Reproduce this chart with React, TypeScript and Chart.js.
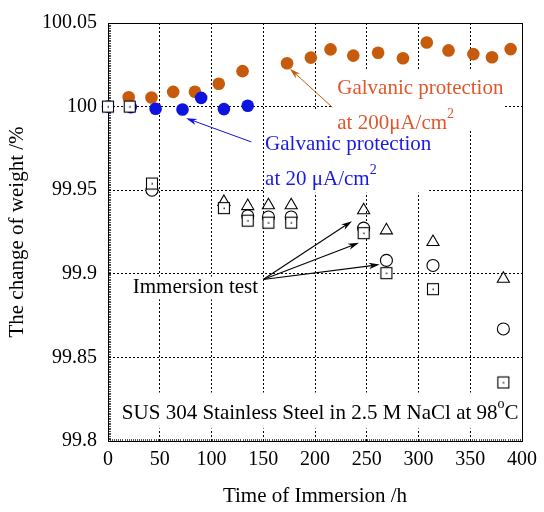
import React, { useEffect, useRef } from "react";
import { Chart, registerables } from "chart.js";

Chart.register(...registerables);

// ---------- data ----------
const orangeX = [20, 42, 63, 84, 107, 130, 173, 196, 215, 237, 261, 285, 308, 329, 353, 371, 389];
const orangeY = [100.0056, 100.0054, 100.0088, 100.0089, 100.0137, 100.0212, 100.0259, 100.0293, 100.0342, 100.0305, 100.0322, 100.0289, 100.0383, 100.0336, 100.0314, 100.0295, 100.0344];

const blueX = [0, 22, 46, 72, 90, 112, 135];
const blueY = [100.0, 99.9997, 99.9987, 99.9983, 100.0052, 99.9985, 100.0005];

const squareX = [0, 21, 42.5, 112, 135, 155, 177, 247, 269, 314, 382];
const squareY = [100.0, 100.0, 99.954, 99.9393, 99.9318, 99.9306, 99.9306, 99.9243, 99.9004, 99.8908, 99.835];

const circleX = [42.5, 135, 155, 177, 247, 269, 314, 382];
const circleY = [99.95, 99.9346, 99.934, 99.934, 99.9273, 99.908, 99.905, 99.867];

const triangleX = [112, 135, 155, 177, 247, 269, 314, 382];
const triangleY = [99.943, 99.9405, 99.941, 99.941, 99.938, 99.926, 99.919, 99.897];

const xTickValues = [0, 50, 100, 150, 200, 250, 300, 350, 400];
const yTickValues = [99.8, 99.85, 99.9, 99.95, 100, 100.05];
const yTickLabels = ["99.8", "99.85", "99.9", "99.95", "100", "100.05"];

const xTitle = "Time of Immersion /h";
const yTitle = "The change of weight /%";

// ---------- styling ----------
const SERIF = '"Liberation Serif", "Times New Roman", Times, serif';
const ORANGE_DOT = "#c75b0c";
const ORANGE_TXT = "#e0572b";
const BLUE_DOT = "#0d14e0";
const BLUE_TXT = "#1a1ae6";

// annotation layout (data coordinates)
const whiteBoxes = [
  { x0: 216.7, x1: 381.9, y0: 100.0222, y1: 99.986 },
  { x0: 151.0, x1: 310.3, y0: 99.9985, y1: 99.9485 },
  { x0: 21, x1: 147, y0: 99.8983, y1: 99.8847 },
  { x0: 9.5, x1: 393.3, y0: 99.829, y1: 99.8075 },
];

type Part = { t: string; sup?: boolean };
const labels: { x: number; y: number; color: string; parts: Part[] }[] = [
  { x: 221.5, y: 100.0109, color: ORANGE_TXT, parts: [{ t: "Galvanic protection" }] },
  { x: 221.5, y: 99.9902, color: ORANGE_TXT, parts: [{ t: "at 200\u03BCA/cm" }, { t: "2", sup: true }] },
  { x: 151.8, y: 99.9771, color: BLUE_TXT, parts: [{ t: "Galvanic protection" }] },
  { x: 151.8, y: 99.9564, color: BLUE_TXT, parts: [{ t: "at 20 \u03BCA/cm" }, { t: "2", sup: true }] },
  { x: 23.9, y: 99.8918, color: "#000", parts: [{ t: "Immersion test" }] },
  { x: 13.4, y: 99.8166, color: "#000", parts: [{ t: "SUS 304 Stainless Steel in 2.5 M NaCl at 98" }, { t: "o", sup: true }, { t: "C" }] },
];

const arrows: { x0: number; y0: number; x1: number; y1: number; color: string; w: number }[] = [
  { x0: 216.7, y0: 99.9996, x1: 175.7, y1: 100.0227, color: ORANGE_DOT, w: 1 },
  { x0: 138.4, y0: 99.9789, x1: 75.4, y1: 99.9931, color: BLUE_DOT, w: 1 },
  { x0: 149.9, y0: 99.8966, x1: 235.8, y1: 99.9315, color: "#000", w: 1.1 },
  { x0: 149.9, y0: 99.8966, x1: 242.5, y1: 99.9185, color: "#000", w: 1.1 },
  { x0: 149.9, y0: 99.8966, x1: 262.5, y1: 99.9055, color: "#000", w: 1.1 },
];

function squareDot(): HTMLCanvasElement {
  const c = document.createElement("canvas");
  c.width = 14;
  c.height = 14;
  const g = c.getContext("2d")!;
  g.fillStyle = "#fff";
  g.fillRect(1.5, 1.5, 11, 11);
  g.strokeStyle = "#000";
  g.lineWidth = 1.1;
  g.strokeRect(1.5, 1.5, 11, 11);
  g.fillStyle = "#222";
  g.fillRect(6.5, 6.5, 1.5, 1.5);
  return c;
}

const annotPlugin = {
  id: "annot",
  beforeDatasetsDraw(chart: any) {
    const { ctx, scales } = chart;
    const xs = scales.x, ys = scales.y;
    ctx.save();
    ctx.fillStyle = "#fff";
    for (const b of whiteBoxes) {
      const x0 = xs.getPixelForValue(b.x0), x1 = xs.getPixelForValue(b.x1);
      const y0 = ys.getPixelForValue(b.y0), y1 = ys.getPixelForValue(b.y1);
      ctx.fillRect(x0, y0, x1 - x0, y1 - y0);
    }
    // frame + dense minor ticks (drawn under the markers)
    const a = chart.chartArea;
    ctx.strokeStyle = "#000";
    ctx.lineWidth = 1;
    ctx.setLineDash([]);
    ctx.strokeRect(Math.round(a.left) + 0.5, Math.round(a.top) + 0.5, Math.round(a.right - a.left), Math.round(a.bottom - a.top));
    ctx.lineWidth = 0.7;
    ctx.beginPath();
    for (let v = 99.8; v <= 100.0501; v += 0.001) {
      const y = Math.round(ys.getPixelForValue(v)) + 0.5;
      ctx.moveTo(a.left, y);
      ctx.lineTo(a.left + 3, y);
    }
    for (let v = 0; v <= 400; v += 2) {
      const x = Math.round(xs.getPixelForValue(v)) + 0.5;
      ctx.moveTo(x, a.bottom);
      ctx.lineTo(x, a.bottom - 2);
    }
    ctx.stroke();
    ctx.restore();
  },
  afterDatasetsDraw(chart: any) {
    const { ctx, scales } = chart;
    const xs = scales.x, ys = scales.y;
    ctx.save();
    // arrows
    for (const ar of arrows) {
      const x0 = xs.getPixelForValue(ar.x0), y0 = ys.getPixelForValue(ar.y0);
      const x1 = xs.getPixelForValue(ar.x1), y1 = ys.getPixelForValue(ar.y1);
      const ang = Math.atan2(y1 - y0, x1 - x0);
      const L = 11, H = 3.2;
      ctx.strokeStyle = ar.color;
      ctx.fillStyle = ar.color;
      ctx.lineWidth = ar.w;
      ctx.beginPath();
      ctx.moveTo(x0, y0);
      ctx.lineTo(x1 - Math.cos(ang) * 4, y1 - Math.sin(ang) * 4);
      ctx.stroke();
      const bx = x1 - Math.cos(ang) * L, by = y1 - Math.sin(ang) * L;
      ctx.beginPath();
      ctx.moveTo(x1, y1);
      ctx.lineTo(bx + Math.sin(ang) * H, by - Math.cos(ang) * H);
      ctx.lineTo(x1 - Math.cos(ang) * L * 0.7, y1 - Math.sin(ang) * L * 0.7);
      ctx.lineTo(bx - Math.sin(ang) * H, by + Math.cos(ang) * H);
      ctx.closePath();
      ctx.fill();
    }

    // labels
    ctx.textBaseline = "middle";
    ctx.textAlign = "left";
    for (const lb of labels) {
      let x = xs.getPixelForValue(lb.x);
      const y = ys.getPixelForValue(lb.y);
      ctx.fillStyle = lb.color;
      for (const p of lb.parts) {
        if (p.sup) {
          ctx.font = `14px ${SERIF}`;
          ctx.fillText(p.t, x, y - 9);
          x += ctx.measureText(p.t).width;
        } else {
          ctx.font = `21px ${SERIF}`;
          ctx.fillText(p.t, x, y);
          x += ctx.measureText(p.t).width;
        }
      }
    }
    ctx.restore();
  },
};

export default function App() {
  const ref = useRef<HTMLCanvasElement | null>(null);

  useEffect(() => {
    if (!ref.current) return;
    const sq = squareDot();
    const pts = (xs: number[], ys: number[]) => xs.map((x, i) => ({ x, y: ys[i] }));
    const chart = new Chart(ref.current, {
      type: "scatter",
      data: {
        datasets: [
          {
            label: "Immersion (square)",
            data: pts(squareX, squareY),
            pointStyle: sq as any,
            pointRadius: 7,
            clip: false,
          },
          {
            label: "Immersion (circle)",
            data: pts(circleX, circleY),
            pointStyle: "circle",
            pointRadius: 6,
            borderColor: "#000",
            backgroundColor: "#fff",
            borderWidth: 1.1,
            clip: false,
          },
          {
            label: "Immersion (triangle)",
            data: pts(triangleX, triangleY),
            pointStyle: "triangle",
            pointRadius: 7,
            borderColor: "#000",
            backgroundColor: "rgba(255,255,255,0)",
            borderWidth: 1.1,
            clip: false,
          },
          {
            label: "20 uA/cm2",
            data: pts(blueX, blueY),
            pointStyle: "circle",
            pointRadius: 6.3,
            backgroundColor: BLUE_DOT,
            borderColor: BLUE_DOT,
            borderWidth: 0,
            clip: false,
          },
          {
            label: "200 uA/cm2",
            data: pts(orangeX, orangeY),
            pointStyle: "circle",
            pointRadius: 6.3,
            backgroundColor: ORANGE_DOT,
            borderColor: ORANGE_DOT,
            borderWidth: 0,
            clip: false,
          },
        ] as any,
      },
      options: {
        animation: false,
        responsive: false,
        events: [],
        layout: { padding: { top: 19, right: 17, left: 0, bottom: 0 } },
        plugins: { legend: { display: false }, tooltip: { enabled: false } },
        scales: {
          x: {
            type: "linear",
            min: 0,
            max: 400,
            afterBuildTicks: (s: any) => {
              s.ticks = xTickValues.map((v) => ({ value: v }));
            },
            afterFit: (s: any) => {
              s.height = 71;
            },
            ticks: {
              color: "#000",
              font: { family: SERIF, size: 20 },
              padding: 7,
              maxRotation: 0,
              callback: (v: any) => String(v),
            },
            grid: { color: "#000", lineWidth: 1, drawTicks: false },
            border: { dash: [2, 2], color: "#000", width: 1 },
            title: {
              display: true,
              text: xTitle,
              color: "#000",
              font: { family: SERIF, size: 21 },
              padding: { top: 0, bottom: 3 },
            },
          },
          y: {
            type: "linear",
            min: 99.8,
            max: 100.05,
            afterBuildTicks: (s: any) => {
              s.ticks = yTickValues.map((v) => ({ value: v }));
            },
            afterFit: (s: any) => {
              s.width = 108;
            },
            ticks: {
              color: "#000",
              font: { family: SERIF, size: 20 },
              padding: 11,
              callback: (_v: any, i: number) => yTickLabels[i],
            },
            grid: { color: "#000", lineWidth: 1, drawTicks: false },
            border: { dash: [2, 2], color: "#000", width: 1 },
            title: {
              display: true,
              text: yTitle,
              color: "#000",
              font: { family: SERIF, size: 21 },
              padding: { top: 5, bottom: 0 },
            },
          },
        },
      },
      plugins: [annotPlugin],
    });
    return () => chart.destroy();
  }, []);

  return (
    <div style={{ position: "fixed", left: 0, top: 0, width: 544, height: 512, background: "#fff" }}>
      <canvas ref={ref} width={544} height={512} style={{ display: "block" }} />
    </div>
  );
}
